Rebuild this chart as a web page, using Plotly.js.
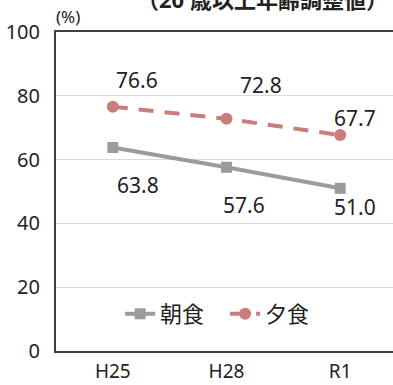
<!DOCTYPE html>
<html><head><meta charset="utf-8">
<script src="https://cdn.plot.ly/plotly-3.0.1.min.js"></script>
<style>html,body{margin:0;padding:0;overflow:hidden;background:#fff;width:393px;height:385px}</style>
</head><body><div id="c"></div>
<script>
const categories = ['H25', 'H28', 'R1'];
const breakfast = [63.8, 57.6, 51.0];
const dinner = [76.6, 72.8, 67.7];
const seriesNames = ['朝食', '夕食'];
const titleText = '（20 歳以上年齢調整値）';

const FONT = '"Noto Sans", "Noto Sans CJK JP", sans-serif';
const gray = '#9a9b9d';
const rose = '#c97d7e';

const traces = [
  {x: categories, y: breakfast, name: seriesNames[0], type: 'scatter', mode: 'lines+markers',
   line: {color: gray, width: 4}, marker: {symbol: 'square', size: 11, color: gray}},
  {x: categories, y: dinner, name: seriesNames[1], type: 'scatter', mode: 'lines+markers',
   line: {color: rose, width: 4, dash: '15px,11px'}, marker: {symbol: 'circle', size: 12, color: rose}}
];

const dinnerShift = [[24, 27], [34, 34], [15, 17]];
const bfShift = [[25, -38], [17, -38], [15, -19]];
const annotations = [];
categories.forEach((c, i) => {
  annotations.push({x: c, y: dinner[i], text: dinner[i].toFixed(1), showarrow: false,
    xshift: dinnerShift[i][0], yshift: dinnerShift[i][1], font: {size: 21, color: '#222', family: FONT}});
  annotations.push({x: c, y: breakfast[i], text: breakfast[i].toFixed(1), showarrow: false,
    xshift: bfShift[i][0], yshift: bfShift[i][1], font: {size: 21, color: '#222', family: FONT}});
});
annotations.push({xref: 'paper', yref: 'paper', x: -0.005, y: 1, yshift: 16, xanchor: 'left', yanchor: 'middle',
  text: '(%)', showarrow: false, font: {size: 17, color: '#222', family: FONT}});
annotations.push({xref: 'paper', yref: 'paper', x: 0.232, y: 1, yshift: 33, xanchor: 'left', yanchor: 'middle',
  text: '<b>' + titleText + '</b>', showarrow: false, font: {size: 22, color: '#222', family: FONT}});

const layout = {
  width: 397, height: 385,
  margin: {l: 56, r: 0, t: 32, b: 34},
  paper_bgcolor: '#fff', plot_bgcolor: '#fff',
  font: {family: FONT, color: '#222', size: 20},
  showlegend: true,
  legend: {orientation: 'h', x: 0.188, xanchor: 'left', y: 0.116, yanchor: 'middle',
           bgcolor: 'rgba(0,0,0,0)', font: {size: 22, color: '#222', family: FONT},
           entrywidth: 60, entrywidthmode: 'pixels'},
  xaxis: {type: 'category', range: [-0.5, 2.5], showgrid: false, showline: true, linecolor: '#404040',
          linewidth: 2, mirror: true, ticks: '', ticklabelstandoff: 2, tickfont: {size: 19}, fixedrange: true},
  yaxis: {range: [0, 100], dtick: 20, showgrid: true, gridcolor: '#d9d9d9', gridwidth: 1, showline: true,
          linecolor: '#404040', linewidth: 2, mirror: true, ticks: '', ticklabelstandoff: 10,
          tickfont: {size: 20}, zeroline: false, fixedrange: true},
  annotations: annotations
};
Plotly.newPlot('c', traces, layout, {displayModeBar: false, staticPlot: true});
</script></body></html>
